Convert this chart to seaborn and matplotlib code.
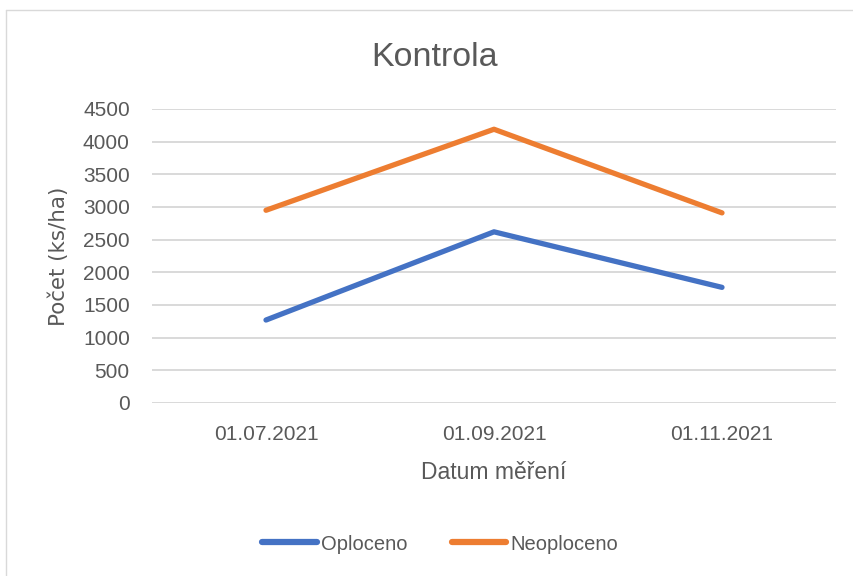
import matplotlib
matplotlib.use("Agg")
import matplotlib.pyplot as plt
import seaborn as sns
import pandas as pd
from matplotlib.lines import Line2D

dates = ["01.07.2021", "01.09.2021", "01.11.2021"]
oploceno = [1270, 2620, 1770]
neoploceno = [2950, 4190, 2910]
series_names = ["Oploceno", "Neoploceno"]
y_ticks = [0, 500, 1000, 1500, 2000, 2500, 3000, 3500, 4000, 4500]

sns.set_theme(style="white")
plt.rcParams["font.family"] = ["Liberation Sans", "DejaVu Sans"]

df = pd.DataFrame({
    "Datum": list(range(len(dates))) * 2,
    "Hodnota": oploceno + neoploceno,
    "Serie": [series_names[0]] * len(dates) + [series_names[1]] * len(dates),
})

fig = plt.figure(figsize=(8.54, 5.76), dpi=100)
ax = fig.add_axes([152 / 854, 1 - 403 / 576, (836 - 152) / 854, (403 - 109) / 576])

sns.lineplot(data=df, x="Datum", y="Hodnota", hue="Serie",
             palette={"Oploceno": "#4472C4", "Neoploceno": "#ED7D31"},
             linewidth=3.8, ax=ax, legend=False, solid_capstyle="round")

ax.set_xlim(-0.5, len(dates) - 0.5)
ax.set_ylim(0, 4500)
ax.set_yticks(y_ticks)
ax.set_yticklabels([str(v) for v in y_ticks])
ax.set_xticks(range(len(dates)))
ax.set_xticklabels(dates)
ax.yaxis.grid(True, color="#D9D9D9", linewidth=1.4)
ax.set_axisbelow(True)
for s in ax.spines.values():
    s.set_visible(False)
ax.tick_params(axis="both", length=0, labelsize=15, colors="#595959")
ax.tick_params(axis="y", pad=16)
ax.tick_params(axis="x", pad=16)

ax.set_xlabel("Datum měření", fontsize=16.5, color="#595959", labelpad=12)
ax.set_ylabel("Počet (ks/ha)", fontsize=15.4, color="#595959", labelpad=10,
              fontfamily="DejaVu Sans")

fig.text(435 / 854, 1 - 57 / 576, "Kontrola", ha="center", va="center",
         fontsize=24.5, color="#595959")

handles = [Line2D([0], [0], color="#4472C4", lw=4.5),
           Line2D([0], [0], color="#ED7D31", lw=4.5)]
fig.legend(handles, series_names, loc="center", bbox_to_anchor=(440 / 854, 1 - 544 / 576),
           ncol=2, frameon=False, fontsize=14.5, handlelength=2.7, handletextpad=0.2,
           columnspacing=2.2, labelcolor="#595959")

# chart border
fig.add_artist(Line2D([6 / 854, 6 / 854], [1 - 10 / 576, 0], color="#D9D9D9", lw=1))
fig.add_artist(Line2D([6 / 854, 1], [1 - 10 / 576, 1 - 10 / 576], color="#D9D9D9", lw=1))

fig.savefig("out.png", dpi=100)
